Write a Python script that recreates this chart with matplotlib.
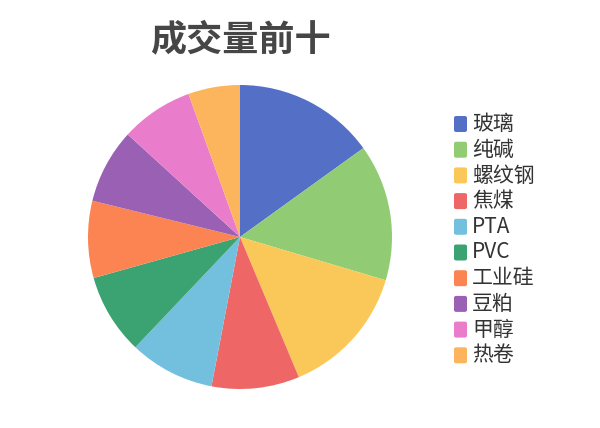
import matplotlib
matplotlib.use("Agg")
import matplotlib.pyplot as plt
from matplotlib.patches import FancyBboxPatch

plt.rcParams['font.family'] = ['Noto Sans CJK SC', 'DejaVu Sans']

# data
labels = ['玻璃', '纯碱', '螺纹钢', '焦煤', 'PTA', 'PVC', '工业硅', '豆粕', '甲醇', '热卷']
values = [15.06, 14.53, 14.08, 9.33, 9.08, 8.56, 8.19, 7.94, 7.72, 5.50]
colors = ['#5470c6', '#91cc75', '#fac858', '#ee6666', '#73c0de',
          '#3ba272', '#fc8452', '#9a60b4', '#ea7ccc', '#fcb55c']
title = '成交量前十'

W, H = 600, 428
fig = plt.figure(figsize=(W / 100, H / 100), dpi=100)

# pie centred at (240, 237) px with radius 152 px
cx, cy, r = 240, 237, 152
ax = fig.add_axes([(cx - r) / W, (H - cy - r) / H, 2 * r / W, 2 * r / H])
ax.pie(values, colors=colors, startangle=90, counterclock=False,
       radius=1, wedgeprops=dict(linewidth=0))
ax.set_xlim(-1, 1)
ax.set_ylim(-1, 1)
ax.set_aspect('equal')
ax.axis('off')

fig.text(cx / W, 1 - 40 / H, title, ha='center', va='center',
         fontsize=26, fontweight='bold', color='#464646')

# legend drawn by hand
y0, step = 124, 25.7
for i, (lab, col) in enumerate(zip(labels, colors)):
    yc = y0 + i * step
    box = FancyBboxPatch((454 / W, 1 - (yc + 8) / H), 13 / W, 16 / H,
                         boxstyle='round,pad=0,rounding_size=0.004',
                         transform=fig.transFigure, facecolor=col,
                         edgecolor='none')
    fig.patches.append(box)
    fig.text(472 / W, 1 - yc / H, lab, ha='left', va='center',
             fontsize=15, fontweight='medium', color='#333333')

fig.savefig('out.png', dpi=100)
